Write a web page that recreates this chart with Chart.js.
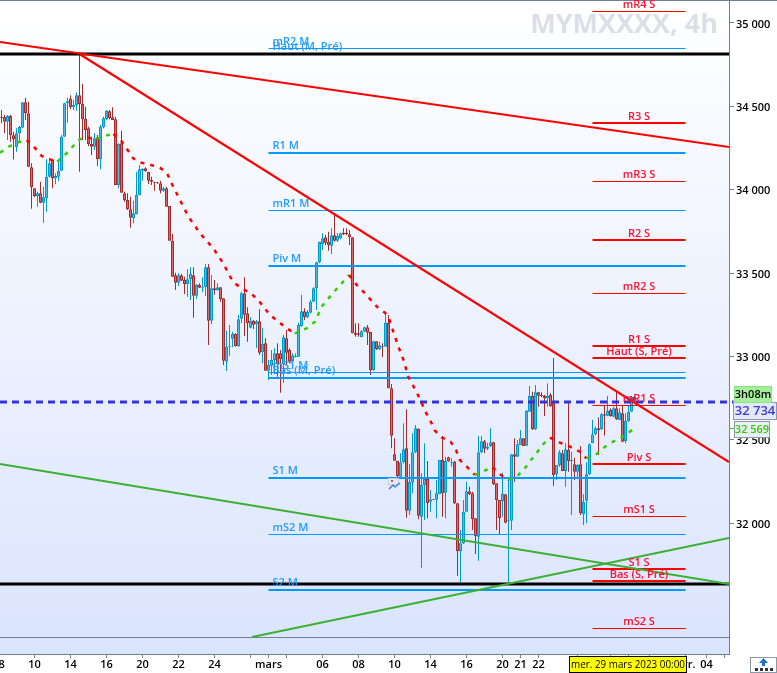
<!DOCTYPE html>
<html><head><meta charset="utf-8">
<style>html,body{margin:0;padding:0;background:#fff;overflow:hidden}#w{position:relative;width:777px;height:673px}</style>
<script src="https://cdn.jsdelivr.net/npm/chart.js@4"></script>
</head><body><div id="w"><canvas id="c" width="777" height="673"></canvas></div>
<script>
const open_=[34438,34438,34408,34442,34326,34254,34338,34372,34524,34458,
34134,34008,33962,33978,33922,33948,34078,34178,34068,34078,
34114,34318,34518,34546,34494,34508,34566,34514,34426,34368,
34274,34258,34314,34182,34374,34424,34470,34434,34422,34028,
34278,33978,33938,33882,33828,33852,33966,34114,34128,34108,
34058,34048,34044,34038,33994,34008,33902,33694,33486,33442,
33486,33458,33434,33462,33486,33364,33428,33412,33414,33534,
33214,33408,33398,33414,33348,32968,33056,33106,33134,33062,
33226,33378,33258,33172,33214,33192,33210,33026,33078,32914,
32944,32978,33018,33018,32954,33108,33038,32972,32994,32998,
33182,33270,33234,33262,33328,33408,33564,33672,33714,33688,
33664,33726,33694,33708,33742,33742,33732,33714,33142,33138,
33114,33148,33174,33146,32918,33090,33042,33062,33058,33202,
32808,32412,32374,32278,32364,32448,32074,32242,32424,32564,
32038,32228,32264,32128,32144,32140,32174,32378,32182,32394,
32362,32368,32118,31830,31878,32068,32190,32178,32028,31918,
32424,32490,32446,32462,32484,32238,32138,32130,32172,32014,
32014,32412,32398,32468,32508,32464,32668,32762,32562,32784,
32768,32762,32748,32768,32718,32292,32348,32418,32312,32438,
32372,32352,32308,32352,32052,32134,32292,32480,32532,32568,
32562,32652,32644,32678,32638,32688,32618,32658,32492,32612,
32668,32758];
const close_=[34432,34408,34442,34326,34302,34338,34376,34524,34458,34138,
34014,33962,33978,33922,33954,34078,34158,34068,34082,34114,
34318,34518,34530,34494,34508,34566,34514,34422,34358,34274,
34258,34308,34182,34378,34428,34472,34428,34418,34028,34274,
33982,33938,33882,33832,33858,33968,34122,34124,34112,34054,
34048,34042,34040,33994,34008,33898,33694,33478,33442,33486,
33454,33434,33462,33494,33364,33428,33412,33418,33534,33214,
33408,33398,33414,33342,32974,33058,33060,33134,33062,33222,
33378,33250,33198,33214,33190,33210,33022,33074,32914,32948,
32978,33018,32954,32982,33114,33022,32968,33006,33002,33188,
33270,33234,33266,33326,33408,33564,33686,33708,33682,33668,
33726,33694,33722,33738,33732,33732,33714,33138,33130,33130,
33150,33174,33142,32918,33090,33042,33066,33058,33202,32808,
32524,32374,32282,32364,32442,32074,32246,32424,32568,32044,
32228,32264,32118,32142,32140,32178,32378,32178,32372,32370,
32368,32118,31830,31878,32068,32190,32174,32022,31922,32424,
32490,32446,32458,32484,32234,32138,32030,32174,32002,32018,
32412,32398,32472,32508,32462,32672,32762,32562,32784,32764,
32762,32748,32762,32702,32288,32348,32424,32312,32442,32372,
32378,32308,32348,32058,32128,32292,32472,32532,32568,32558,
32652,32644,32674,32642,32688,32622,32664,32488,32612,32668,
32758,32734];
const high_=[34478,34448,34448,34448,34348,34368,34382,34524,34552,34528,
34158,34008,33988,34048,34018,34182,34188,34182,34098,34168,
34328,34522,34552,34566,34538,34584,34814,34634,34498,34378,
34318,34338,34328,34388,34438,34478,34478,34494,34438,34278,
34354,33988,33978,33958,33934,34108,34148,34128,34134,34108,
34078,34048,34044,34054,34018,34018,33902,33734,33502,33498,
33494,33478,33522,33534,33534,33434,33438,33474,33554,33554,
33488,33458,33438,33414,33348,33154,33188,33148,33138,33248,
33388,33474,33294,33234,33218,33218,33282,33168,33108,32978,
33038,33048,33078,33038,33128,33158,33048,33018,33018,33202,
33368,33288,33278,33338,33414,33568,33688,33738,33728,33748,
33768,33848,33738,33742,33768,33768,33758,33714,33198,33198,
33158,33178,33188,33148,33094,33090,33088,33078,33268,33248,
32834,32508,32374,32418,32598,32682,32354,32538,32588,32568,
32298,32478,32372,32198,32144,32258,32378,32522,32398,32398,
32388,32372,32118,31958,32138,32248,32218,32188,32028,32522,
32522,32498,32482,32568,32488,32238,32138,32302,32174,32268,
32412,32508,32498,32558,32508,32678,32822,32788,32828,32788,
32784,32768,32838,32778,32990,32348,32438,32438,32478,32718,
32428,32392,32352,32462,32172,32364,32478,32618,32578,32634,
32660,32708,32762,32688,32698,32784,32688,32708,32658,32708,
32762,32762];
const low_=[34398,34338,34298,34288,34182,34228,34288,34372,34418,34138,
33886,33954,33898,33918,33802,33868,34074,34008,34034,34054,
34114,34318,34402,34482,34478,34474,34108,34298,34298,34262,
34208,34238,34142,34122,34368,34418,34422,34418,34028,34008,
33982,33928,33878,33772,33798,33852,33966,34054,34108,34034,
34028,33994,34034,33978,33988,33898,33694,33478,33398,33422,
33454,33374,33358,33338,33232,33344,33410,33384,33362,33068,
33194,33370,33394,33328,32948,32912,33002,33054,33058,33058,
33198,33122,33088,33168,33164,33050,33008,32958,32914,32858,
32888,32898,32878,32782,32842,32948,32958,32968,32994,32998,
33178,33218,33228,33258,33328,33278,33558,33638,33668,33634,
33614,33688,33688,33702,33728,33728,33668,33138,33118,33118,
33114,33148,33068,32888,32914,33038,33038,32994,33058,32808,
32448,32374,32268,32278,32358,32032,32048,32178,32418,32022,
31732,32018,32028,32068,32138,32028,32174,32038,32028,32368,
32338,32114,31684,31642,31874,32068,32168,31958,31814,31774,
32418,32418,32438,32458,32228,31958,31934,32038,31998,31646,
31958,32248,32398,32468,32462,32462,32668,32558,32558,32698,
32754,32642,32698,32698,32222,32258,32338,32312,32218,32308,
32048,32258,32268,32048,31988,31998,32288,32478,32528,32408,
32558,32524,32640,32638,32634,32618,32618,32484,32478,32608,
32668,32730];

const maBar=[-0.5,2.8,6.2,8.4,10.6,13.4,16.2,18.6,21.7,23.9,26.2,28.6,31.7,35.1,37.3,39.7,41.7,43.9,46.2,49.5,52.8,55.1,56.7,59.5,62.3,66.2,70.6,73.9,76.2,77.7,80.2,83.1,85.6,87.3,89.5,92.3,95.1,97.8,101.7,104.5,106.7,109.5,111.9,115.9,118.4,121.2,125.1,127.8,129,130.6,132.3,134,135.6,137.3,138.7,140.1,141.5,143.1,144.5,146.7,149.7,151.5,152.8,155.1,157.8,161.5,163.7,166.2,169,172.3,174.7,176.7,178.4,180.6,182.8,186.7,189.5,192.8,195,198.4,201.2,203.9,206.7,210.6];
const maVal=[34222,34262,34288,34298,34262,34202,34182,34168,34218,34262,34304,34312,34304,34326,34334,34298,34248,34188,34164,34150,34132,34102,34038,33938,33838,33738,33648,33558,33478,33438,33408,33378,33338,33298,33248,33208,33168,33138,33168,33208,33298,33358,33408,33488,33428,33378,33298,33262,33238,33148,33058,32978,32878,32822,32772,32718,32662,32608,32554,32514,32488,32438,32378,32338,32288,32318,32334,32292,32258,32288,32334,32382,32422,32474,32512,32478,32458,32428,32388,32414,32458,32488,32514,32562];

const monthlyNames=['mR2 M','Haut (M, Pré)','R1 M','mR1 M','Piv M','mS1 M','Bas (M, Pré)','S1 M','mS2 M','S2 M'];
const monthlyVals=[34847,34814,34220,33875,33542,32903,32870,32270,31931,31598];
const weeklyNames=['mR4 S','R3 S','mR3 S','R2 S','mR2 S','R1 S','Haut (S, Pré)','mR1 S','Piv S','mS1 S','S1 S','Bas (S, Pré)','mS2 S'];
const weeklyVals=[35069,34400,34049,33698,33377,33062,32990,32705,32354,32039,31724,31652,31367];
const monthlySpan=[89,228];
const weeklySpan=[197,228];

const redTrendA=[[-0.5,34886],[242.5,34256]];
const redTrendB=[[26,34814],[242.5,32366]];
const greenTrendA=[[-0.5,32354],[242.5,31634]];
const greenTrendB=[[83.5,31316],[242.5,31910]];
const supportRes=[34814,31634];
const greyLevel=31313;
const priceLevel=32726;
const priceText='32 734', maText='32 569', timerText='3h08m', maTag=32569;
const crossText='mer. 29 mars 2023 00:00', watermark='MYMXXXX, 4h';
const objectBar=129, objectVal=32238;

const yTicks=[35000,34500,34000,33500,33000,32500,32000];
const xTickBars=[-1,11,23,35,47,59,71,83,89,95,107,119,131,143,155,167,173,179,192,203,209,216,228,235,241];
const xTickText=['08','10','14','16','20','22','24','','mars','','06','08','10','14','16','20','21','22','','','','','avr.','04',''];

const FONT='"Open Sans"';
const hline=(v,a,b,color,w,extra)=>Object.assign({type:'line',data:[{x:a,y:v},{x:b,y:v}],borderColor:color,borderWidth:w,pointRadius:0,fill:false,tension:0,parsing:false},extra||{});
const seg=(p,color,w)=>({type:'line',data:p.map(q=>({x:q[0],y:q[1]})),borderColor:color,borderWidth:w,pointRadius:0,fill:false,tension:0,parsing:false});
const isUp=i=>close_[i]>=open_[i];

const datasets=[];
datasets.push(seg(redTrendA,'#ff0000',2.1),seg(redTrendB,'#ff0000',2.1));
datasets.push(seg(greenTrendA,'#3cb034',2),seg(greenTrendB,'#3cb034',2));
datasets.push({type:'line',data:maBar.map((x,i)=>({x,y:maVal[i]})),parsing:false,borderWidth:2.5,pointRadius:0,tension:0,fill:false,borderDash:[4,6],borderColor:'#ff0000',
  segment:{borderColor:c=>c.p1.parsed.y>c.p0.parsed.y?'#33cc00':'#ff0000'}});
datasets.push(hline(priceLevel,-0.5,244,'#3333dd',3,{borderDash:[7,5],clip:false}));
supportRes.forEach(v=>datasets.push(hline(v,-0.5,242.5,'#000000',3)));
monthlyVals.forEach((v,i)=>datasets.push(hline(v,monthlySpan[0],monthlySpan[1],'#0099ff',monthlyNames[i].startsWith('m')?1:2)));
weeklyVals.forEach((v,i)=>datasets.push(hline(v,weeklySpan[0],weeklySpan[1],'#ff0000',weeklyNames[i].startsWith('m')?1:2)));
datasets.push(hline(greyLevel,-0.5,242.5,'#708090',1));
datasets.push({type:'bar',grouped:false,barThickness:3,inflateAmount:0,borderSkipped:false,borderWidth:1,parsing:{xAxisKey:'x',yAxisKey:'y'},
  data:open_.map((o,i)=>({x:i,y:[Math.min(o,close_[i]),Math.max(o,close_[i])]})),
  backgroundColor:open_.map((o,i)=>isUp(i)?'#4db8e8':'#dd6a6a'),
  borderColor:open_.map((o,i)=>isUp(i)?'#0099cc':'#a52a2a')});
datasets.push({type:'bar',grouped:false,barThickness:1,inflateAmount:0,borderWidth:0,parsing:{xAxisKey:'x',yAxisKey:'y'},
  data:open_.map((o,i)=>({x:i,y:[low_[i],high_[i]]})),
  backgroundColor:open_.map((o,i)=>isUp(i)?'#0099cc':'#a52a2a')});

const decor={id:'decor',
 beforeDraw(ch){
  const {scales:{x,y},chartArea}=ch;
  y.getLabelItems(chartArea).forEach(i=>{if(!i.shifted){i.textOffset+=1.5;i.shifted=true;}});
  x.getLabelItems(chartArea).forEach(i=>{if(!i.shifted){i.textOffset-=1;i.shifted=true;}});
 },
 beforeDatasetsDraw(ch){
  const {ctx,chartArea:a}=ch;ctx.save();
  const g=ctx.createLinearGradient(0,a.top,0,a.bottom);g.addColorStop(0,'#ffffff');g.addColorStop(1,'#dae4fd');
  ctx.fillStyle=g;ctx.fillRect(a.left,a.top,a.right-a.left,a.bottom-a.top);
  ctx.fillStyle='#708090';ctx.fillRect(0,0,777,1);
  ctx.fillStyle='#dcdfe8';ctx.font='bold 27px "Open Sans"';ctx.textAlign='right';ctx.textBaseline='alphabetic';
  ctx.fillText(watermark,718,33);
  ctx.restore();
 },
 afterDatasetsDraw(ch){
  const {ctx,scales:{x,y}}=ch;ctx.save();
  ctx.textBaseline='middle';ctx.font='600 11px '+FONT;
  ctx.fillStyle='#1e9cff';ctx.textAlign='left';
  monthlyNames.forEach((n,i)=>ctx.fillText(n,x.getPixelForValue(monthlySpan[0])+4,y.getPixelForValue(monthlyVals[i])-7));
  ctx.fillStyle='#ff1030';ctx.textAlign='center';
  weeklyNames.forEach((n,i)=>ctx.fillText(n,(x.getPixelForValue(weeklySpan[0])+x.getPixelForValue(weeklySpan[1]))/2,y.getPixelForValue(weeklyVals[i])-6.5));
  const ox=Math.round(x.getPixelForValue(objectBar)),oy=Math.round(y.getPixelForValue(objectVal));
  ctx.strokeStyle='#c8ccd4';ctx.lineWidth=1;ctx.strokeRect(ox-0.5,oy-4.5,10,6);
  ctx.fillStyle='#e05050';ctx.fillRect(ox+2,oy-3,2,2);
  ctx.strokeStyle='#2f6fe0';ctx.lineWidth=1.2;ctx.beginPath();ctx.moveTo(ox,oy+6);ctx.lineTo(ox+4,oy+2);ctx.lineTo(ox+6,oy+4);ctx.lineTo(ox+11,oy);ctx.stroke();
  ctx.restore();
 },
 afterDraw(ch){
  const {ctx,scales:{y}}=ch;ctx.save();
  const box=(x0,y0,w,h,fill,stroke)=>{ctx.fillStyle=fill;ctx.fillRect(x0,y0,w,h);ctx.strokeStyle=stroke;ctx.lineWidth=1;ctx.strokeRect(x0+.5,y0+.5,w-1,h-1);};
  const yTag=Math.round(y.getPixelForValue(maTag));
  ctx.fillStyle='#33cc00';ctx.fillRect(729,yTag,5,1);
  box(733,402,44,18,'#e3e9f6','#8a98a8');
  box(734,386,38,17,'#a4f09a','#8fe088');
  box(734,421,36,17,'#eaf0f8','#8a98a8');
  ctx.textBaseline='middle';ctx.textAlign='center';
  ctx.font='600 11px '+FONT;ctx.fillStyle='#000';ctx.fillText(timerText,753,395);
  ctx.font='600 13px '+FONT;ctx.fillStyle='#3a3adf';ctx.fillText(priceText,755,411);
  ctx.font='600 11px '+FONT;ctx.fillStyle='#33cc00';ctx.fillText(maText,752,430);
  box(569,656,118,17,'#ffff00','#000');
  ctx.font='11.5px '+FONT;ctx.fillStyle='#000';ctx.fillText(crossText,628,665,114);
  box(750,657,27,16,'#ffffff','#8a98a8');
  ctx.fillStyle='#1a6fd0';ctx.beginPath();ctx.moveTo(763.5,658);ctx.lineTo(768,663);ctx.lineTo(765,663);ctx.lineTo(765,666);ctx.lineTo(762,666);ctx.lineTo(762,663);ctx.lineTo(759,663);ctx.closePath();ctx.fill();
  ctx.fillStyle='#333';[755,760,765,770].forEach(v=>ctx.fillRect(v,668,3,3));
  ctx.restore();
 }};

new Chart(document.getElementById('c'),{
 data:{datasets},
 plugins:[decor],
 options:{responsive:false,animation:false,events:[],
  layout:{padding:{top:1,left:0,right:0,bottom:0}},
  plugins:{legend:{display:false},tooltip:{enabled:false},title:{display:false}},
  scales:{
   x:{type:'linear',offset:false,min:-0.5,max:242.5,
    afterBuildTicks:s=>{s.ticks=xTickBars.map(v=>({value:v}));},
    afterFit:s=>{s.height=19;s.paddingLeft=0;s.paddingRight=0;},
    grid:{drawOnChartArea:false,offset:false,tickLength:4,tickColor:'#708090'},
    border:{color:'#708090',width:2},
    ticks:{autoSkip:false,maxRotation:0,minRotation:0,padding:1,color:'#000',font:{family:FONT,size:11,weight:'600'},
      callback:(v)=>xTickText[xTickBars.indexOf(v)]}},
   y:{type:'linear',position:'right',min:31214,max:35132,
    afterBuildTicks:s=>{s.ticks=yTicks.map(v=>({value:v}));},
    afterFit:s=>{s.width=48;s.paddingTop=0;s.paddingBottom=0;},
    grid:{drawOnChartArea:false,tickLength:5,tickColor:'#708090'},
    border:{color:'#708090',width:2},
    ticks:{padding:2,color:'#000',font:{family:FONT,size:11,weight:'600'},
      callback:v=>String(v).slice(0,2)+' '+String(v).slice(2)}}
  }}
});
</script></body></html>
